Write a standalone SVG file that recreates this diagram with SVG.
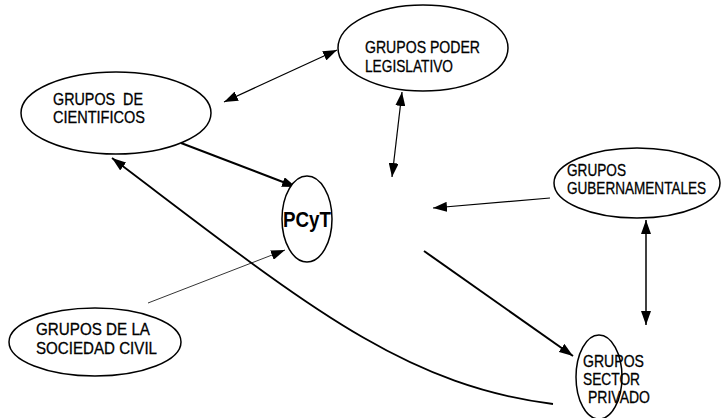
<svg xmlns="http://www.w3.org/2000/svg" width="721" height="418" viewBox="0 0 721 418">
<style>
.n{fill:#fff;stroke:#000;stroke-width:1.5}
.t{font-family:"Liberation Sans",Arial,sans-serif;font-size:16.5px;fill:#000;stroke:#000;stroke-width:0.3}
.b{font-family:"Liberation Sans",Arial,sans-serif;font-size:22px;font-weight:bold;fill:#000}
.c{fill:none;stroke:#000}
</style>
<defs>
<marker id="ah" viewBox="0 0 14 10" refX="14" refY="5" markerWidth="14" markerHeight="10" markerUnits="userSpaceOnUse" orient="auto-start-reverse">
<path d="M0,0 L14,5 L0,10 Z" fill="#000"/>
</marker>
</defs>
<rect width="721" height="418" fill="#fff"/>
<g id="connectors">
<line class="c" stroke-width="1.2" x1="224" y1="102" x2="337" y2="50" marker-start="url(#ah)" marker-end="url(#ah)"/>
<line class="c" stroke-width="1.2" x1="402" y1="92" x2="392" y2="177" marker-start="url(#ah)" marker-end="url(#ah)"/>
<line class="c" stroke-width="1.2" x1="550" y1="198" x2="433" y2="208" marker-end="url(#ah)"/>
<line class="c" stroke-width="1.5" x1="646" y1="220" x2="646" y2="325" marker-start="url(#ah)" marker-end="url(#ah)"/>
<line class="c" stroke-width="2" x1="424" y1="251" x2="573" y2="356" marker-end="url(#ah)"/>
<line class="c" stroke-width="2" x1="181" y1="143" x2="296" y2="187" marker-end="url(#ah)"/>
<line class="c" stroke-width="0.8" x1="148" y1="303" x2="285" y2="250" marker-end="url(#ah)"/>
<path class="c" stroke-width="1.8" d="M553 404 C400 385 300 300 112 158" marker-end="url(#ah)"/>
</g>
<g id="cientificos">
<ellipse class="n" cx="116" cy="113" rx="95" ry="41"/>
<text class="t" x="53" y="105" textLength="90" lengthAdjust="spacingAndGlyphs" xml:space="preserve">GRUPOS  DE</text>
<text class="t" x="53" y="123" textLength="92" lengthAdjust="spacingAndGlyphs">CIENTIFICOS</text>
</g>
<g id="legislativo">
<ellipse class="n" cx="423" cy="48" rx="85" ry="43"/>
<text class="t" x="365" y="53" textLength="115" lengthAdjust="spacingAndGlyphs">GRUPOS PODER</text>
<text class="t" x="365" y="72" textLength="88" lengthAdjust="spacingAndGlyphs">LEGISLATIVO</text>
</g>
<g id="gubernamentales">
<ellipse class="n" cx="637" cy="183" rx="83" ry="35"/>
<text class="t" x="567" y="176" textLength="59" lengthAdjust="spacingAndGlyphs">GRUPOS</text>
<text class="t" transform="translate(567 194) scale(0.822 1)" x="0" y="0">GUBERNAMENTALES</text>
</g>
<g id="pcyt">
<ellipse class="n" cx="307" cy="219" rx="25" ry="43"/>
<text class="b" x="283" y="227" textLength="48" lengthAdjust="spacingAndGlyphs">PCyT</text>
</g>
<g id="sociedad">
<ellipse class="n" cx="95" cy="342" rx="86" ry="34"/>
<text class="t" x="36" y="335" textLength="114" lengthAdjust="spacingAndGlyphs">GRUPOS DE LA</text>
<text class="t" x="36" y="354" textLength="121" lengthAdjust="spacingAndGlyphs">SOCIEDAD CIVIL</text>
</g>
<g id="privado">
<ellipse class="n" style="fill:none" cx="599" cy="377" rx="23" ry="42"/>
<text class="t" x="583" y="367" textLength="61" lengthAdjust="spacingAndGlyphs">GRUPOS</text>
<text class="t" x="583" y="385" textLength="57" lengthAdjust="spacingAndGlyphs">SECTOR</text>
<text class="t" x="588" y="403" textLength="62" lengthAdjust="spacingAndGlyphs">PRIVADO</text>
</g>
</svg>
